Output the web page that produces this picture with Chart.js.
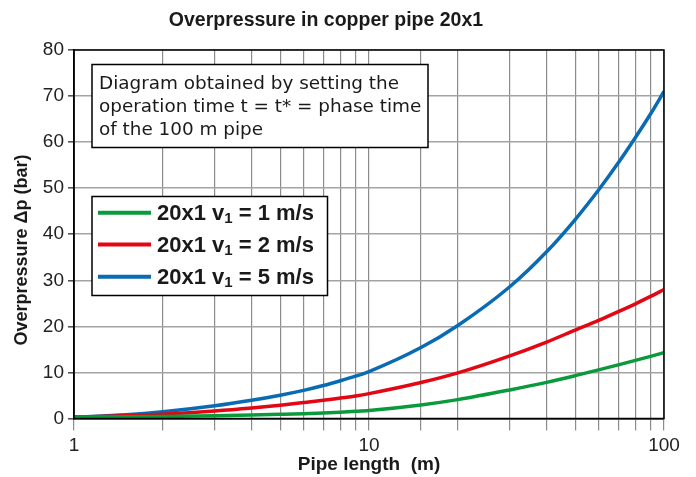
<!DOCTYPE html>
<html>
<head>
<meta charset="utf-8">
<script src="https://cdn.jsdelivr.net/npm/chart.js@4.4.1/dist/chart.umd.min.js"></script>
<style>
  body { margin: 0; background: #ffffff; }
  canvas { display: block; }
</style>
</head>
<body>
<canvas id="chart-pressao" width="696" height="477"></canvas>
<script>
// valores (comprimento do tubo em m, sobrepressao em bar)
const comprimentos = [1, 1.5, 2, 3, 4, 5, 6, 7, 8, 9, 10, 15, 20, 30, 40, 50, 60, 70, 80, 90, 100];
const pressaoV1 = [0.3, 0.37, 0.45, 0.6, 0.75, 0.9, 1.04, 1.2, 1.37, 1.55, 1.75, 2.95, 4.1, 6.2, 7.85, 9.3, 10.55, 11.65, 12.62, 13.5, 14.3];
const pressaoV2 = [0.3, 0.6, 0.95, 1.65, 2.3, 2.9, 3.45, 3.95, 4.45, 4.9, 5.4, 7.8, 9.9, 13.6, 16.6, 19.2, 21.3, 23.2, 24.9, 26.5, 28.0];
const pressaoV5 = [0.3, 0.8, 1.45, 2.75, 3.95, 5.05, 6.1, 7.15, 8.2, 9.2, 10.2, 15.4, 20.2, 28.6, 36.2, 43.2, 49.6, 55.5, 61.0, 66.1, 71.0];

const rotulos = ["20x1 v₁ = 1 m/s", "20x1 v₁ = 2 m/s", "20x1 v₁ = 5 m/s"];
const cores = ["#0a9a3c", "#e30613", "#0a6bb5"];

const tituloGrafico = "Overpressure in copper pipe 20x1";
const tituloX = "Pipe length  (m)";
const tituloY = "Overpressure Δp (bar)";
const notaTexto = [
  "Diagram obtained by setting the",
  "operation time t = t* = phase time",
  "of the 100 m pipe"
];
const ticksX = [1, 10, 100];

function pontos(valores) {
  return comprimentos.map((c, i) => ({ x: c, y: valores[i] }));
}

function criarDataset(indice, valores) {
  return {
    label: rotulos[indice],
    data: pontos(valores),
    borderColor: cores[indice],
    backgroundColor: cores[indice],
    borderWidth: 3.5,
    pointRadius: 0,
    fill: false,
    cubicInterpolationMode: "monotone"
  };
}

// titulo, nota, legenda e moldura desenhados a mao
const extras = {
  id: "extras",
  afterDatasetsDraw(chart) {
    const ctx = chart.ctx;
    const area = chart.chartArea;
    ctx.save();

    // moldura
    ctx.strokeStyle = "#000000";
    ctx.lineWidth = 1.5;
    ctx.strokeRect(area.left, area.top, area.right - area.left, area.bottom - area.top);

    // caixa da nota
    ctx.fillStyle = "#ffffff";
    ctx.fillRect(92, 64.5, 336, 83);
    ctx.strokeRect(92, 64.5, 336, 83);
    ctx.fillStyle = "#1a1a1a";
    ctx.font = "18.4px 'DejaVu Sans'";
    ctx.textAlign = "left";
    ctx.textBaseline = "middle";
    notaTexto.forEach((linha, i) => {
      ctx.fillText(linha, 99, 84 + i * 23.3);
    });

    // legenda
    ctx.fillStyle = "#ffffff";
    ctx.fillRect(92, 196.5, 235.5, 99);
    ctx.strokeRect(92, 196.5, 235.5, 99);
    const linhasY = [212.7, 244.5, 276.7];
    chart.data.datasets.forEach((ds, i) => {
      const y = linhasY[i];
      ctx.strokeStyle = ds.borderColor;
      ctx.lineWidth = 4;
      ctx.beginPath();
      ctx.moveTo(98, y);
      ctx.lineTo(151, y);
      ctx.stroke();

      const partes = ds.label.split("₁");
      ctx.fillStyle = "#1a1a1a";
      ctx.textBaseline = "middle";
      ctx.font = "bold 22px 'Liberation Sans'";
      let x = 157;
      ctx.fillText(partes[0], x, y + 1);
      x += ctx.measureText(partes[0]).width;
      ctx.font = "bold 15px 'Liberation Sans'";
      ctx.fillText("1", x, y + 6);
      x += ctx.measureText("1").width;
      ctx.font = "bold 22px 'Liberation Sans'";
      ctx.fillText(partes[1], x, y + 1);
    });

    // titulo principal
    ctx.fillStyle = "#1a1a1a";
    ctx.textAlign = "center";
    ctx.font = "bold 19.5px 'Liberation Sans'";
    ctx.fillText(tituloGrafico, 326, 20.5);

    // titulo do eixo y
    ctx.translate(22, 250);
    ctx.rotate(-Math.PI / 2);
    ctx.font = "bold 18px 'Liberation Sans'";
    ctx.fillText(tituloY, 0, 0);

    ctx.restore();
  }
};

const ctxPressao = document.getElementById("chart-pressao");

const chartPressao = new Chart(ctxPressao, {
  type: "line",
  data: {
    datasets: [
      criarDataset(0, pressaoV1),
      criarDataset(1, pressaoV2),
      criarDataset(2, pressaoV5)
    ]
  },
  plugins: [extras],
  options: {
    responsive: false,
    animation: false,
    devicePixelRatio: 1,
    layout: {
      padding: { left: 0, top: 50, right: 32, bottom: 0 }
    },
    plugins: {
      legend: { display: false },
      title: { display: false },
      tooltip: { enabled: false }
    },
    scales: {
      x: {
        type: "logarithmic",
        min: 1,
        max: 100,
        afterFit: (escala) => { escala.height = 58.5; },
        grid: {
          color: "#8c8c8c",
          lineWidth: 1.2,
          tickLength: 12
        },
        border: { color: "#000000", width: 1.5 },
        ticks: {
          autoSkip: false,
          maxRotation: 0,
          padding: 4,
          color: "#222222",
          font: { family: "'Liberation Sans'", size: 19 },
          callback: (valor) => ticksX.includes(Math.round(valor * 1000) / 1000) ? String(Math.round(valor)) : ""
        },
        title: {
          display: true,
          text: tituloX,
          color: "#1a1a1a",
          padding: { top: 0, bottom: 1 },
          font: { family: "'Liberation Sans'", size: 19, weight: "bold" }
        }
      },
      y: {
        min: 0,
        max: 80,
        afterFit: (escala) => { escala.width = 74; },
        grid: {
          color: "#a3a3a3",
          lineWidth: 1.6,
          tickLength: 6,
          tickColor: "#555555"
        },
        border: { color: "#000000", width: 1.5 },
        ticks: {
          stepSize: 10,
          padding: 4,
          color: "#222222",
          font: { family: "'Liberation Sans'", size: 19 }
        }
      }
    }
  }
});
</script>
</body>
</html>
